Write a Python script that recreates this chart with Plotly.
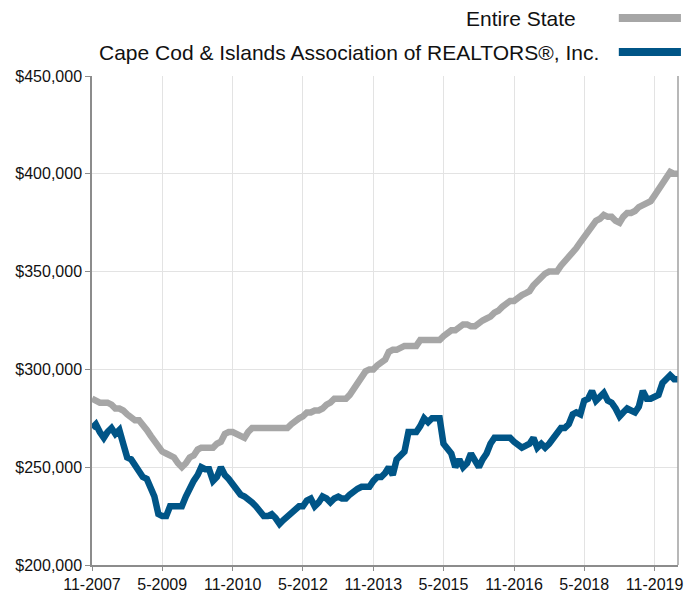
import plotly.graph_objects as go
import pandas as pd

months = pd.date_range("2007-11-01", "2020-05-01", freq="MS")

entire_state = [
    285, 284, 283, 283, 283, 282, 280, 280, 279, 277,
    275, 274, 274, 272, 269, 266, 263, 261, 258, 257,
    256, 255, 252, 250, 252, 255, 256, 259, 260, 260,
    260, 260, 262, 263, 267, 268, 268, 267, 266, 265,
    268, 270, 270, 270, 270, 270, 270, 270, 270, 270,
    270, 272, 274, 275, 276, 278, 278, 279, 279, 280,
    282, 283, 285, 285, 285, 285, 287, 290, 293, 296,
    299, 300, 300, 302, 304, 305, 309, 310, 310, 311,
    312, 312, 312, 312, 315, 315, 315, 315, 315, 315,
    317, 319, 320, 320, 322, 323, 323, 322, 322, 324,
    325, 326, 327, 329, 330, 332, 334, 335, 335, 337,
    338, 339, 340, 343, 345, 348, 349, 350, 350, 350,
    353, 355, 357, 360, 362, 365, 368, 370, 374, 376,
    377, 379, 378, 378, 376, 375, 378, 380, 380, 381,
    383, 384, 385, 386, 389, 392, 395, 399, 401, 400,
    400,
]

cape_cod = [
    270, 272, 268, 265, 268, 270, 267, 269, 262, 255,
    254, 251, 249, 245, 244, 238, 235, 226, 225, 225,
    230, 230, 230, 230, 235, 240, 243, 246, 250, 249,
    249, 243, 245, 250, 246, 244, 241, 238, 236, 235,
    234, 232, 230, 228, 225, 225, 226, 224, 221, 223,
    225, 226, 229, 230, 230, 233, 234, 230, 232, 235,
    234, 232, 234, 235, 234, 234, 236, 238, 239, 240,
    240, 240, 243, 245, 245, 247, 250, 246, 254, 256,
    258, 268, 268, 268, 271, 275, 273, 275, 275, 275,
    262, 259, 257, 250, 254, 250, 252, 257, 253, 250,
    254, 257, 262, 265, 265, 265, 265, 265, 263, 261,
    260, 261, 262, 265, 260, 262, 260, 262, 265, 268,
    270, 270, 272, 277, 278, 277, 284, 285, 289, 284,
    286, 288, 284, 283, 280, 276, 278, 280, 279, 278,
    281, 289, 285, 285, 286, 287, 293, 295, 297, 295,
    295,
]

entire_state_vals = [v * 1000 for v in entire_state]
cape_cod_vals = [v * 1000 for v in cape_cod]

x_tick_dates = ["2007-11-01", "2009-05-01", "2010-11-01", "2012-05-01", "2013-11-01",
                "2015-05-01", "2016-11-01", "2018-05-01", "2019-11-01"]
x_tick_labels = ["11-2007", "5-2009", "11-2010", "5-2012", "11-2013",
                 "5-2015", "11-2016", "5-2018", "11-2019"]
y_tick_vals = [200000, 250000, 300000, 350000, 400000, 450000]
y_tick_labels = ["$200,000", "$250,000", "$300,000", "$350,000", "$400,000", "$450,000"]

series_names = ["Entire State", "Cape Cod & Islands Association of REALTORS®, Inc."]
GRAY = "#a6a6a6"
BLUE = "#005587"

fig = go.Figure()
fig.add_trace(go.Scatter(x=months, y=entire_state_vals, mode="lines", name=series_names[0],
                         line=dict(color=GRAY, width=6.5), showlegend=False))
fig.add_trace(go.Scatter(x=months, y=cape_cod_vals, mode="lines", name=series_names[1],
                         line=dict(color=BLUE, width=6.5), showlegend=False))

font_family = "Liberation Sans, Arial, sans-serif"

# custom legend (text right-aligned, swatch on the right)
legend_rows = [(series_names[0], GRAY, 1.1186, 0.829), (series_names[1], BLUE, 1.049, 0.8686)]
for name, color, yy, xr in legend_rows:
    fig.add_annotation(x=xr, y=yy, xref="paper", yref="paper", text=name,
                       showarrow=False, xanchor="right", yanchor="middle",
                       font=dict(family=font_family, size=21, color="#111111"))
    fig.add_shape(type="line", xref="paper", yref="paper", x0=0.899, x1=1.005, y0=yy, y1=yy,
                  line=dict(color=color, width=8))

# page body has an 8px margin, so the figure is offset by 8px
fig.update_layout(
    width=689, height=584,
    margin=dict(l=84, r=19, t=68, b=27, autoexpand=False),
    paper_bgcolor="white", plot_bgcolor="white",
    font=dict(family=font_family, color="#111111"),
)
fig.update_xaxes(
    type="date", automargin=False,
    range=["2007-11-01", "2020-05-01"],
    tickvals=x_tick_dates, ticktext=x_tick_labels,
    showgrid=True, gridcolor="#e3e3e3", gridwidth=1,
    showline=True, linecolor="#8c8c8c", linewidth=1.5, mirror=False,
    ticks="outside", ticklen=4, tickcolor="#8c8c8c",
    tickfont=dict(size=16, color="#111111"),
    zeroline=False,
)
fig.update_yaxes(
    automargin=False,
    range=[200000, 450000],
    tickvals=y_tick_vals, ticktext=y_tick_labels,
    showgrid=True, gridcolor="#e3e3e3", gridwidth=1,
    showline=True, linecolor="#8c8c8c", linewidth=1.5,
    ticks="outside", ticklen=5, tickcolor="#8c8c8c",
    tickfont=dict(size=16, color="#111111"),
    zeroline=False,
)
# right border line
fig.add_shape(type="line", xref="paper", yref="paper", x0=1, x1=1, y0=0, y1=1,
              line=dict(color="#a0a0a0", width=1.5))

fig.write_html("out.html")
